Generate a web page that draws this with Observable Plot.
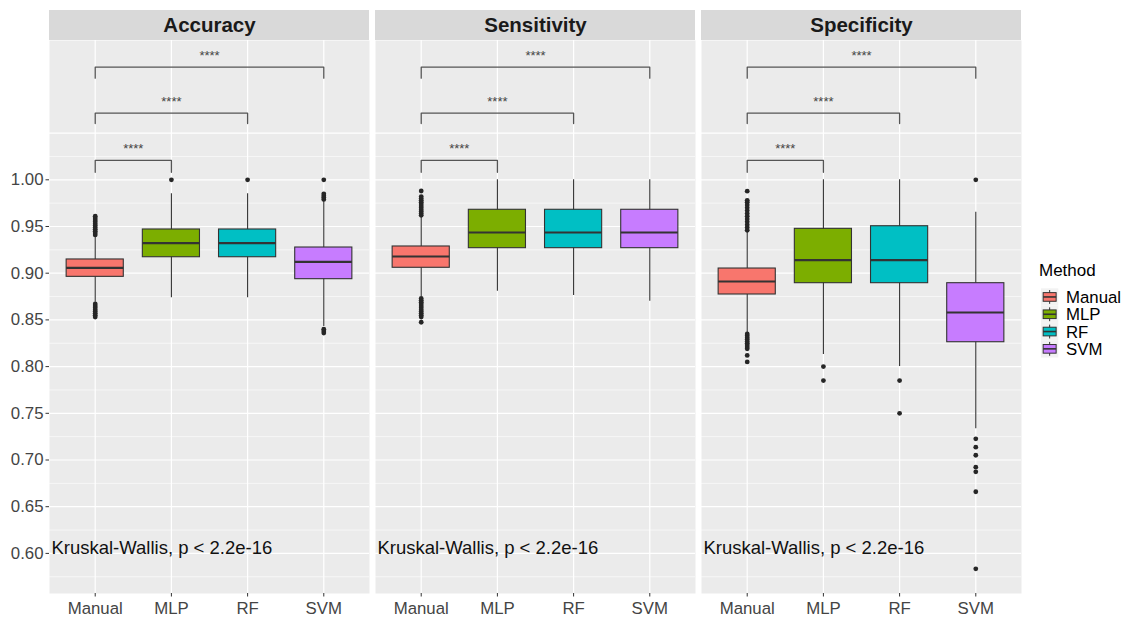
<!DOCTYPE html>
<html><head><meta charset="utf-8">
<script src="https://cdn.jsdelivr.net/npm/d3@7"></script>
<script src="https://cdn.jsdelivr.net/npm/@observablehq/plot@0.6"></script>
<style>
html,body{margin:0;padding:0;background:#fff;}
#wrap{position:relative;width:1130px;height:619px;font-family:"Liberation Sans",Arial,sans-serif;}
#legend{position:absolute;left:1036px;top:258px;}
</style></head><body><div id="wrap"></div>
<script>
// ---- data ----
const facets = ["Accuracy", "Sensitivity", "Specificity"];
const methods = ["Manual", "MLP", "RF", "SVM"];
const colors = ["#F8766D", "#7CAE00", "#00BFC4", "#C77CFF"];
const yTicks = [0.60, 0.65, 0.70, 0.75, 0.80, 0.85, 0.90, 0.95, 1.00];
const yGridMajor = [0.60, 0.65, 0.70, 0.75, 0.80, 0.85, 0.90, 0.95, 1.00, 1.05];
const yGridMinor = [0.575, 0.625, 0.675, 0.725, 0.775, 0.825, 0.875, 0.925, 0.975, 1.025];

// [whisker low, Q1, median, Q3, whisker high] per method
const accuracyStats = [
  [0.869, 0.8961, 0.9058, 0.9147, 0.940],
  [0.8737, 0.9171, 0.9321, 0.9468, 0.985],
  [0.8737, 0.9171, 0.9321, 0.9468, 0.985],
  [0.843, 0.8936, 0.9122, 0.9275, 0.977]
];
const sensitivityStats = [
  [0.875, 0.9058, 0.9179, 0.9286, 0.961],
  [0.8807, 0.9268, 0.9436, 0.9679, 1.000],
  [0.8761, 0.9268, 0.9436, 0.9679, 1.000],
  [0.870, 0.9268, 0.9436, 0.9679, 1.000]
];
const specificityStats = [
  [0.836, 0.8772, 0.8911, 0.905, 0.945],
  [0.813, 0.8893, 0.9139, 0.9475, 1.000],
  [0.800, 0.8893, 0.9139, 0.9503, 1.000],
  [0.7334, 0.8261, 0.8579, 0.8893, 0.9653]
];
const accuracyOutliers = [
  [0.941, 0.943, 0.945, 0.947, 0.949, 0.951, 0.953, 0.955, 0.957, 0.959, 0.961,
   0.853, 0.855, 0.857, 0.859, 0.861, 0.863, 0.865, 0.867],
  [1.000],
  [1.000],
  [1.000, 0.979, 0.981, 0.983, 0.985, 0.836, 0.838, 0.840]
];
const sensitivityOutliers = [
  [0.988, 0.982, 0.980, 0.978, 0.976, 0.974, 0.972, 0.970, 0.968, 0.966, 0.964, 0.962,
   0.873, 0.871, 0.869, 0.867, 0.865, 0.863, 0.861, 0.859, 0.857, 0.855, 0.853, 0.8475],
  [],
  [],
  []
];
const specificityOutliers = [
  [0.9878, 0.978, 0.976, 0.973, 0.970, 0.967, 0.964, 0.961, 0.958, 0.955, 0.952, 0.949, 0.946,
   0.835, 0.833, 0.831, 0.829, 0.827, 0.825, 0.823, 0.821, 0.819, 0.812, 0.805],
  [0.800, 0.785],
  [0.785, 0.750],
  [1.000, 0.7227, 0.7137, 0.7051, 0.6923, 0.6873, 0.666, 0.5835]
];
const compareWith = ["MLP", "RF", "SVM"];
const bracketLevels = [1.0207, 1.0713, 1.1206];
const bracketTips = [1.0081, 1.0603, 1.1088];
const starLevels = [1.0346, 1.0844, 1.1342];
const starLabels = ["****", "****", "****"];
const kwLabel = "Kruskal-Wallis, p < 2.2e-16";
const kwY = 0.6057;

// ---- tables built from the arrays ----
const statsByFacet = [accuracyStats, sensitivityStats, specificityStats];
const outByFacet = [accuracyOutliers, sensitivityOutliers, specificityOutliers];
const rows = [];
const outRows = [];
facets.forEach((f, fi) => methods.forEach((m, mi) => {
  const s = statsByFacet[fi][mi];
  rows.push({facet: f, method: m, pos: mi + 1, lo: s[0], q1: s[1], med: s[2], q3: s[3], hi: s[4]});
  outByFacet[fi][mi].forEach(v => outRows.push({facet: f, method: m, pos: mi + 1, value: v}));
}));
const bracketRows = [];
const bracketPts = [];
facets.forEach(f => compareWith.forEach((m, k) => {
  const to = methods.indexOf(m) + 1;
  const id = f + k;
  bracketRows.push({facet: f, mid: (1 + to) / 2, y: starLevels[k], label: starLabels[k]});
  [[1, bracketTips[k]], [1, bracketLevels[k]], [to, bracketLevels[k]], [to, bracketTips[k]]]
    .forEach(([x, y]) => bracketPts.push({facet: f, id, x, y}));
}));

const yTop = 1.14914, yStripTop = 1.18126, yStripMid = 1.1652;
const font = '"Liberation Sans", Arial, sans-serif';

const plot = Plot.plot({
  width: 1130, height: 619,
  marginLeft: 49, marginRight: 109, marginTop: 40, marginBottom: 26,
  style: {fontFamily: font, background: "white", overflow: "visible"},
  fx: {domain: facets, paddingInner: 6 / 326, paddingOuter: 0, round: false, axis: null, label: null},
  x: {type: "linear", domain: [0.4, 4.6], label: null},
  y: {domain: [0.55707, yTop], label: null},
  color: {domain: methods, range: colors},
  marks: [
    Plot.frame({fill: "#EBEBEB", stroke: null}),
    Plot.ruleY(yGridMinor, {stroke: "white", strokeWidth: 0.6}),
    Plot.ruleY(yGridMajor, {stroke: "white", strokeWidth: 1.2}),
    Plot.ruleX([1, 2, 3, 4], {stroke: "white", strokeWidth: 1.2}),
    Plot.rect(facets, {fx: d => d, x1: () => 0.4, x2: () => 4.6, y1: () => yTop, y2: () => yStripTop, fill: "#D9D9D9"}),
    Plot.text(facets, {fx: d => d, x: () => 2.5, y: () => yStripMid, text: d => d, fontWeight: "bold", fontSize: 20.5, fill: "#1A1A1A"}),
    Plot.ruleX(rows, {fx: "facet", x: "pos", y1: "lo", y2: "hi", stroke: "#333", strokeWidth: 1.1}),
    Plot.rect(rows, {fx: "facet", x1: d => d.pos - 0.375, x2: d => d.pos + 0.375, y1: "q1", y2: "q3", fill: "method", stroke: "#333", strokeWidth: 1.1}),
    Plot.ruleY(rows, {fx: "facet", y: "med", x1: d => d.pos - 0.375, x2: d => d.pos + 0.375, stroke: "#333", strokeWidth: 2.2}),
    Plot.dot(outRows, {fx: "facet", x: "pos", y: "value", r: 2.4, fill: "#262626", stroke: null}),
    Plot.line(bracketPts, {fx: "facet", x: "x", y: "y", z: "id", stroke: "#555", strokeWidth: 1.3}),
    Plot.text(bracketRows, {fx: "facet", x: "mid", y: "y", text: "label", fontSize: 13, fill: "#444", dy: 1}),
    Plot.text(facets, {fx: d => d, x: () => 0.425, y: () => kwY, text: () => kwLabel, textAnchor: "start", fontSize: 18.5, fill: "#111"}),
    Plot.axisY(yTicks, {tickSize: 3.5, tickPadding: 2.5, tickFormat: d => d.toFixed(2), fontSize: 16.8, fill: "#444", stroke: "#333", label: null}),
    Plot.axisX([1, 2, 3, 4], {tickSize: 3.5, tickPadding: 5, tickFormat: i => methods[i - 1], fontSize: 16.8, fill: "#444", stroke: "#333", label: null})
  ]
});
const wrap = document.getElementById("wrap");
wrap.appendChild(plot);

// legend
const keyH = 17.3;
let svg = `<svg width="94" height="110" xmlns="http://www.w3.org/2000/svg" font-family='${font}'>`;
svg += `<text x="3" y="18" font-size="17" fill="#000">Method</text>`;
methods.forEach((m, i) => {
  const y0 = 30.3 + i * keyH;
  svg += `<rect x="5" y="${y0}" width="${keyH}" height="${keyH}" fill="#F2F2F2"/>`;
  svg += `<line x1="${5 + keyH / 2}" x2="${5 + keyH / 2}" y1="${y0 + keyH * 0.1}" y2="${y0 + keyH * 0.9}" stroke="#333" stroke-width="1"/>`;
  svg += `<rect x="${5 + keyH * 0.125}" y="${y0 + keyH * 0.25}" width="${keyH * 0.75}" height="${keyH * 0.5}" fill="${colors[i]}" stroke="#333" stroke-width="1"/>`;
  svg += `<line x1="${5 + keyH * 0.125}" x2="${5 + keyH * 0.875}" y1="${y0 + keyH / 2}" y2="${y0 + keyH / 2}" stroke="#333" stroke-width="1.6"/>`;
  svg += `<text x="30" y="${y0 + keyH / 2 + 6}" font-size="16.8" fill="#000">${m}</text>`;
});
svg += `</svg>`;
const lg = document.createElement("div");
lg.id = "legend";
lg.innerHTML = svg;
wrap.appendChild(lg);
</script></body></html>
